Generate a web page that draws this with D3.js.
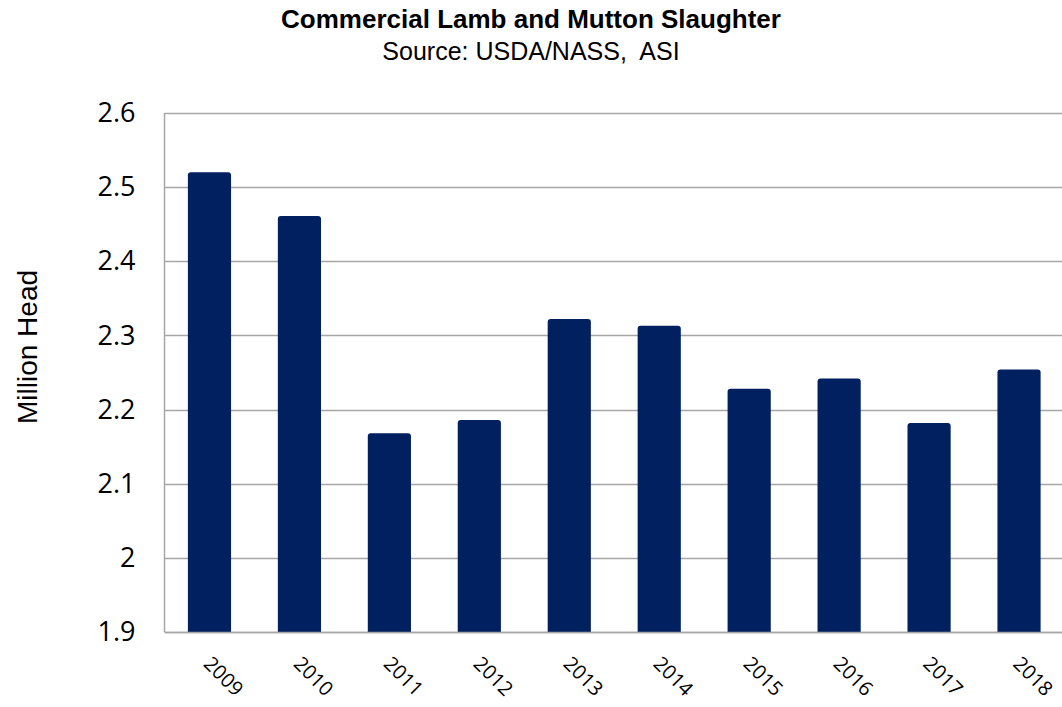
<html>
<head>
<meta charset="utf-8">
<title>Commercial Lamb and Mutton Slaughter</title>
<script src="https://cdn.jsdelivr.net/npm/d3@7"></script>
<style>
  body { margin: 0; background: #fff; }
  svg { display: block; }
</style>
</head>
<body>
<div id="chart"></div>
<script>
// data
const years = ["2009", "2010", "2011", "2012", "2013", "2014", "2015", "2016", "2017", "2018"]
const slaughter = [2.52, 2.461, 2.168, 2.186, 2.322, 2.313, 2.228, 2.242, 2.182, 2.254]
const yTicks = [1.9, 2.0, 2.1, 2.2, 2.3, 2.4, 2.5, 2.6]
const yTickLabels = ["1.9", "2", "2.1", "2.2", "2.3", "2.4", "2.5", "2.6"]

const width = 1062, height = 707
const margin = {top: 113, right: -2, bottom: 75, left: 164.5}

const svg = d3.select("#chart")
  .append("svg")
  .attr("width", width)
  .attr("height", height)

const x = d3.scaleBand()
  .domain(years)
  .range([margin.left, width - margin.right])
  .paddingInner(0.52)
  .paddingOuter(0.26)

const y = d3.scaleLinear()
  .domain([1.9, 2.6])
  .range([height - margin.bottom, margin.top])

// titles
svg.append("text")
  .attr("x", 531).attr("y", 28)
  .attr("text-anchor", "middle")
  .style("font-family", "'Liberation Sans', Arial, sans-serif")
  .style("font-weight", "bold")
  .style("font-size", "26px")
  .text("Commercial Lamb and Mutton Slaughter")

svg.append("text")
  .attr("x", 531).attr("y", 60)
  .attr("text-anchor", "middle")
  .style("font-family", "'Liberation Sans', Arial, sans-serif")
  .style("font-size", "25px")
  .style("white-space", "pre")
  .text("Source: USDA/NASS,  ASI")

// gridlines
svg.append("g")
  .selectAll("line")
  .data(yTicks)
  .join("line")
  .attr("x1", margin.left)
  .attr("x2", width - margin.right)
  .attr("y1", d => Math.round(y(d)) + 0.5)
  .attr("y2", d => Math.round(y(d)) + 0.5)
  .attr("stroke", "#a6a6a6")
  .attr("stroke-width", 1.5)

// left border of plot
svg.append("line")
  .attr("x1", margin.left).attr("x2", margin.left)
  .attr("y1", y(2.6)).attr("y2", y(1.9))
  .attr("stroke", "#a6a6a6")
  .attr("stroke-width", 1.5)

// bars with slightly rounded tops
const r = 3
function barPath(x0, y0, w, y1) {
  return `M${x0},${y1} V${y0 + r} Q${x0},${y0} ${x0 + r},${y0} H${x0 + w - r} Q${x0 + w},${y0} ${x0 + w},${y0 + r} V${y1} Z`
}

svg.append("g")
  .selectAll("path")
  .data(years)
  .join("path")
  .attr("d", (d, i) => barPath(x(d), y(slaughter[i]), x.bandwidth(), y(1.9)))
  .attr("fill", "#002060")

// y axis
const yAxis = d3.axisLeft(y)
  .tickValues(yTicks)
  .tickFormat((d, i) => yTickLabels[i])
  .tickSize(0)
  .tickPadding(29)

svg.append("g")
  .attr("transform", `translate(${margin.left},0)`)
  .call(yAxis)
  .call(g => g.select(".domain").remove())
  .call(g => g.selectAll("text")
    .style("font-family", "'Open Sans', sans-serif")
    .style("font-size", "27px")
    .attr("fill", "#000"))

// x axis with rotated labels
const xAxis = d3.axisBottom(x).tickSize(0)

svg.append("g")
  .attr("transform", `translate(0,${y(1.9)})`)
  .call(xAxis)
  .call(g => g.select(".domain").attr("stroke", "#a6a6a6").attr("stroke-width", 1.5))
  .call(g => g.selectAll("text")
    .style("font-family", "'Open Sans', sans-serif")
    .style("font-size", "20px")
    .attr("fill", "#000")
    .attr("text-anchor", "start")
    .attr("dy", null)
    .attr("y", 0)
    .attr("transform", "translate(-7,33) rotate(45)"))

// y axis title
svg.append("text")
  .attr("transform", "translate(37,347) rotate(-90)")
  .attr("text-anchor", "middle")
  .style("font-family", "'Liberation Sans', Arial, sans-serif")
  .style("font-size", "28px")
  .text("Million Head")
</script>
</body>
</html>
